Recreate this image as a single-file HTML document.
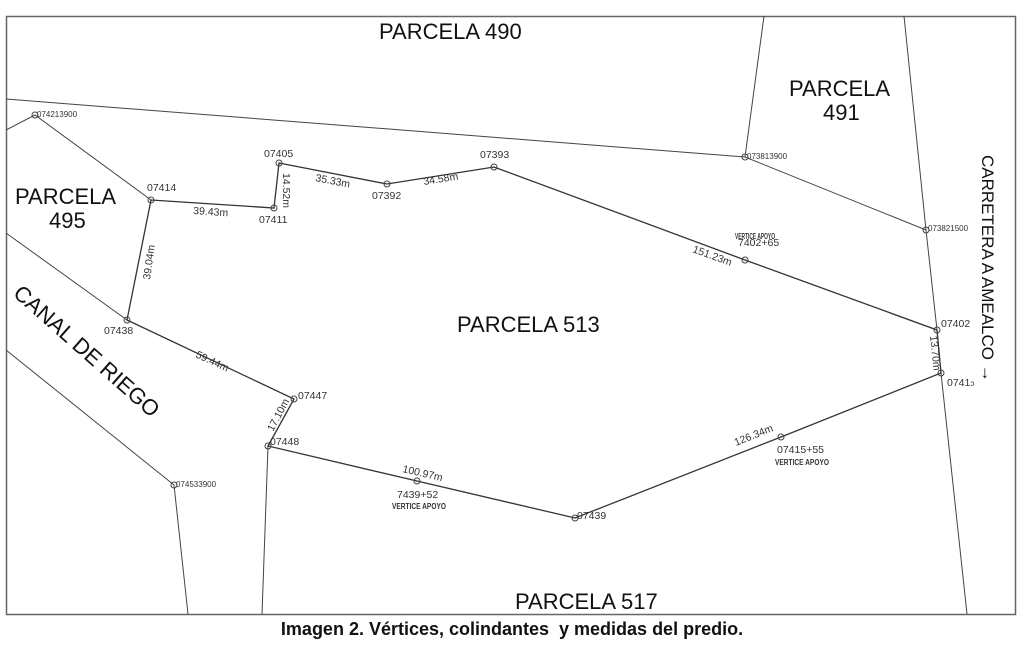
<!DOCTYPE html>
<html><head><meta charset="utf-8">
<style>
html,body{margin:0;padding:0;background:#fff;}
body{width:1024px;height:659px;position:relative;overflow:hidden;font-family:"Liberation Sans",sans-serif;}
svg{position:absolute;left:0;top:0;}
.cap{position:absolute;left:0;width:1024px;top:619px;text-align:center;font-weight:bold;font-size:18px;color:#111;}
</style></head><body>
<svg width="1024" height="659" viewBox="0 0 1024 659" font-family="Liberation Sans, sans-serif">
<rect x="6.5" y="16.5" width="1009" height="598" fill="none" stroke="#666" stroke-width="1.5"/>
<g stroke="#444" stroke-width="1" fill="none">
<polyline points="6,99 745,157 926,230"/>
<line x1="745" y1="157" x2="764" y2="16"/>
<polyline points="904,16 926,230 937,330 941,373 967,614"/>
<polyline points="6,130 35,115 151,200"/>
<polyline points="6,233 127,320"/>
<polyline points="6,350 174,485 188,614"/>
<line x1="268" y1="446" x2="262" y2="614"/>
<polygon stroke="#333" stroke-width="1.3" points="151,200 274,208 279,163 387,184 494,167 745,260 937,330 941,373 781,437 575,518 417,481 268,446 294,399 127,320"/>
</g>
<g stroke="#444" stroke-width="1" fill="none">
<circle cx="35" cy="115" r="3"/><circle cx="151" cy="200" r="3"/><circle cx="274" cy="208" r="3"/>
<circle cx="279" cy="163" r="3"/><circle cx="387" cy="184" r="3"/><circle cx="494" cy="167" r="3"/>
<circle cx="745" cy="157" r="3"/><circle cx="926" cy="230" r="3"/><circle cx="745" cy="260" r="3"/>
<circle cx="937" cy="330" r="3"/><circle cx="941" cy="373" r="3"/><circle cx="781" cy="437" r="3"/>
<circle cx="575" cy="518" r="3"/><circle cx="417" cy="481" r="3"/><circle cx="268" cy="446" r="3"/>
<circle cx="294" cy="399" r="3"/><circle cx="127" cy="320" r="3"/><circle cx="174" cy="485" r="3"/>
</g>
<g fill="#111" font-size="22">
<text x="379" y="39">PARCELA 490</text>
<text x="789" y="96">PARCELA</text><text x="823" y="120">491</text>
<text x="15" y="204">PARCELA</text><text x="49" y="228">495</text>
<text x="457" y="332">PARCELA 513</text>
<text x="515" y="609">PARCELA 517</text>
<text transform="translate(12,295) rotate(41.5)">CANAL DE RIEGO</text>
<text font-size="17" transform="translate(982,155) rotate(90)">CARRETERA A AMEALCO →</text>
</g>
<g fill="#333" font-size="10.5">
<text x="37" y="117" font-size="8">074213900</text>
<text x="147" y="191">07414</text>
<text x="264" y="157">07405</text>
<text x="259" y="223">07411</text>
<text x="372" y="199">07392</text>
<text x="480" y="158">07393</text>
<text x="747" y="159" font-size="8">073813900</text>
<text x="928" y="231" font-size="8">073821500</text>
<text x="941" y="327">07402</text>
<text x="947" y="386">0741<tspan font-size="8">ↄ</tspan></text>
<text x="104" y="334">07438</text>
<text x="298" y="399">07447</text>
<text x="270" y="445">07448</text>
<text x="176" y="487" font-size="8">074533900</text>
<text x="577" y="519">07439</text>
<text x="738" y="246">7402+65</text>
<text x="777" y="453">07415+55</text>
<text x="397" y="498">7439+52</text>
<text x="735" y="239" font-size="8" font-weight="bold" textLength="40" lengthAdjust="spacingAndGlyphs">VERTICE APOYO</text>
<text x="775" y="465" font-size="8" font-weight="bold" textLength="54" lengthAdjust="spacingAndGlyphs">VERTICE APOYO</text>
<text x="392" y="509" font-size="8" font-weight="bold" textLength="54" lengthAdjust="spacingAndGlyphs">VERTICE APOYO</text>
<text x="193" y="214" transform="rotate(3.7 193 214)">39.43m</text>
<text x="315" y="181" transform="rotate(11 315 181)">35.33m</text>
<text x="424" y="185" transform="rotate(-9 424 185)">34.58m</text>
<text x="692" y="252" transform="rotate(20 692 252)">151.23m</text>
<text x="195" y="357" transform="rotate(25 195 357)">59.44m</text>
<text x="402" y="472" transform="rotate(13 402 472)">100.97m</text>
<text x="736" y="446" transform="rotate(-22 736 446)">126.34m</text>
<text transform="translate(283,173) rotate(90)">14.52m</text>
<text transform="translate(150,280) rotate(-82)">39.04m</text>
<text transform="translate(273,432) rotate(-62)">17.10m</text>
<text transform="translate(930,336) rotate(84)">13.70m</text>
</g>
</svg>
<div class="cap">Imagen 2. Vértices, colindantes&nbsp; y medidas del predio.</div>
</body></html>
